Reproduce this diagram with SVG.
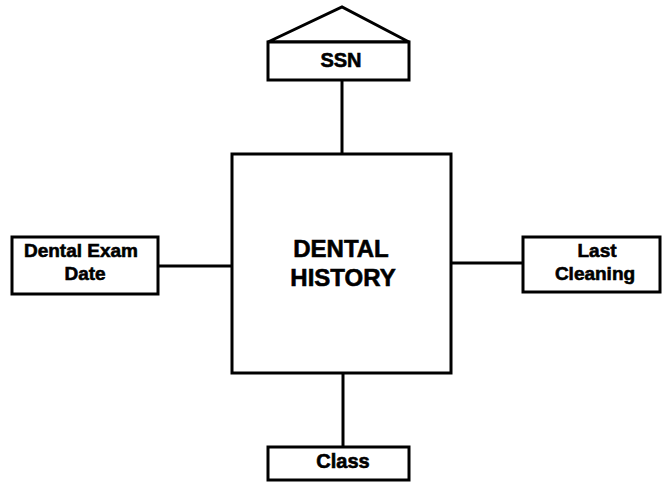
<svg xmlns="http://www.w3.org/2000/svg" width="662" height="483" viewBox="0 0 662 483">
  <style>
    .box { fill: #ffffff; stroke: #000000; stroke-width: 3; }
    .link { fill: none; stroke: #000000; stroke-width: 3; }
    .lbl { font-family: "Liberation Sans", Arial, sans-serif; font-weight: bold; fill: #000000; stroke: #000000; stroke-width: 0.6; text-anchor: middle; }
  </style>
  <rect width="662" height="483" fill="#ffffff"/>

  <!-- connectors from the central entity to its attributes -->
  <g id="connectors">
    <line class="link" x1="342" y1="80" x2="342" y2="154"/>
    <line class="link" x1="158" y1="266" x2="232" y2="266"/>
    <line class="link" x1="451" y1="263" x2="523" y2="263"/>
    <line class="link" x1="343" y1="373" x2="343" y2="447"/>
  </g>

  <!-- central entity -->
  <g id="dental-history">
    <rect class="box" x="232" y="154" width="219" height="219"/>
    <text class="lbl" x="341" y="257" font-size="24">DENTAL</text>
    <text class="lbl" x="343" y="286" font-size="24">HISTORY</text>
  </g>

  <!-- key attribute with roof -->
  <g id="ssn">
    <polygon class="box" points="268,42 342,7 409,42"/>
    <rect class="box" x="268" y="42" width="141" height="38"/>
    <text class="lbl" x="341" y="67" font-size="20">SSN</text>
  </g>

  <g id="dental-exam-date">
    <rect class="box" x="12" y="237" width="146" height="57"/>
    <text class="lbl" x="81" y="257" font-size="19">Dental Exam</text>
    <text class="lbl" x="85" y="280" font-size="19">Date</text>
  </g>

  <g id="last-cleaning">
    <rect class="box" x="523" y="237" width="137" height="55"/>
    <text class="lbl" x="597" y="257" font-size="19">Last</text>
    <text class="lbl" x="595" y="280" font-size="19">Cleaning</text>
  </g>

  <g id="class">
    <rect class="box" x="268" y="447" width="141" height="33"/>
    <text class="lbl" x="343" y="468" font-size="20">Class</text>
  </g>
</svg>
